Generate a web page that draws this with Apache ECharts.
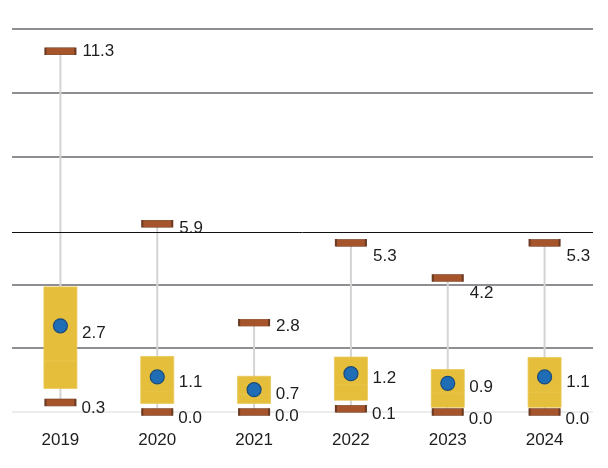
<!DOCTYPE html>
<html>
<head>
<meta charset="utf-8">
<script src="https://cdn.jsdelivr.net/npm/echarts@6/dist/echarts.min.js"></script>
<style>
  html, body { margin: 0; padding: 0; background: #ffffff; }
  #chart { width: 608px; height: 468px; }
</style>
</head>
<body>
<div id="chart"></div>
<script>
// ---- data ----
const years = ['2019', '2020', '2021', '2022', '2023', '2024'];
const maxVals = [11.3, 5.9, 2.8, 5.3, 4.2, 5.3];
const q3Vals = [3.92, 1.74, 1.12, 1.72, 1.33, 1.71];
const medianVals = [1.6, 0.63, 0.55, 0.85, 0.59, 0.62];
const q1Vals = [0.74, 0.27, 0.27, 0.37, 0.15, 0.15];
const minVals = [0.3, 0.0, 0.0, 0.1, 0.0, 0.0];
const meanVals = [2.7, 1.1, 0.7, 1.2, 0.9, 1.1];
const refLineValue = 5.64;

// ---- label nudges (styling, not data) ----
const maxLabelDy = [0, 5, 4, 13, 15, 13];
const meanLabelDy = [7, 5, 5, 5, 4, 5];
const minLabelDy = [6, 6, 4, 6, 7, 7];

const FONT = "'Liberation Sans', Arial, sans-serif";
const TEXT = '#1e1e1e';
const BOX_W = 33;

const chart = echarts.init(document.getElementById('chart'), null, { renderer: 'canvas' });

const labelBase = {
  show: true,
  position: 'right',
  color: TEXT,
  fontFamily: FONT,
  fontSize: 17,
  formatter: p => Number(p.value).toFixed(1)
};

chart.setOption({
  animation: false,
  backgroundColor: '#ffffff',
  grid: { left: 12, right: 15, top: 29, bottom: 56, containLabel: false },
  xAxis: {
    type: 'category',
    data: years,
    boundaryGap: true,
    axisLine: { show: false },
    axisTick: { show: false },
    axisLabel: { color: TEXT, fontFamily: FONT, fontSize: 17, margin: 20 },
    splitLine: { show: false }
  },
  yAxis: {
    type: 'value',
    min: 0,
    max: 12,
    interval: 2,
    axisLine: { show: false },
    axisTick: { show: false },
    axisLabel: { show: false },
    splitLine: {
      show: true,
      lineStyle: {
        width: 2,
        color: ['#ececec', '#8e8e93', '#8e8e93', 'rgba(0,0,0,0)', '#8e8e93', '#8e8e93', '#8e8e93']
      }
    }
  },
  series: [
    {
      type: 'custom',
      z: 2,
      data: years.map((y, i) => [i, minVals[i], q1Vals[i], medianVals[i], q3Vals[i], maxVals[i]]),
      renderItem: function (params, api) {
        const i = api.value(0);
        const pMin = api.coord([i, api.value(1)]);
        const pQ1 = api.coord([i, api.value(2)]);
        const pMed = api.coord([i, api.value(3)]);
        const pQ3 = api.coord([i, api.value(4)]);
        const pMax = api.coord([i, api.value(5)]);
        const cx = pMax[0];
        return {
          type: 'group',
          children: [
            { type: 'line', shape: { x1: cx, y1: pMax[1], x2: cx, y2: pMin[1] },
              style: { stroke: '#d4d4d4', lineWidth: 2 } },
            { type: 'rect', shape: { x: cx - BOX_W / 2, y: pQ3[1], width: BOX_W, height: pQ1[1] - pQ3[1] },
              style: { fill: '#e5bf3b', stroke: '#eac857', lineWidth: 0.8 } },
            { type: 'line', shape: { x1: cx - BOX_W / 2, y1: pMed[1], x2: cx + BOX_W / 2, y2: pMed[1] },
              style: { stroke: '#e8c54d', lineWidth: 1 } }
          ]
        };
      },
      markLine: {
        silent: true,
        symbol: ['none', 'none'],
        label: { show: false },
        lineStyle: { color: '#111111', width: 1, type: 'solid' },
        data: [{ yAxis: refLineValue }]
      }
    },
    {
      type: 'scatter',
      name: 'max',
      z: 4,
      symbol: 'rect',
      symbolSize: [30, 7],
      itemStyle: { color: '#a6542b', borderColor: '#6b3a22', borderWidth: 1, opacity: 1 },
      label: Object.assign({}, labelBase, { distance: 6 }),
      data: maxVals.map((v, i) => ({ value: v, label: { offset: [0, maxLabelDy[i]] } }))
    },
    {
      type: 'scatter',
      name: 'min',
      z: 4,
      symbol: 'rect',
      symbolSize: [30, 7],
      itemStyle: { color: '#a6542b', borderColor: '#6b3a22', borderWidth: 1, opacity: 1 },
      label: Object.assign({}, labelBase, { distance: 5 }),
      data: minVals.map((v, i) => ({ value: v, label: { offset: [0, minLabelDy[i]] } }))
    },
    {
      type: 'scatter',
      name: 'mean',
      z: 5,
      symbol: 'circle',
      symbolSize: 14,
      itemStyle: { color: '#1f6db5', borderColor: '#1b4b7c', borderWidth: 1.2, opacity: 1 },
      label: Object.assign({}, labelBase, { distance: 14 }),
      data: meanVals.map((v, i) => ({ value: v, label: { offset: [0, meanLabelDy[i]] } }))
    }
  ]
});
</script>
</body>
</html>
